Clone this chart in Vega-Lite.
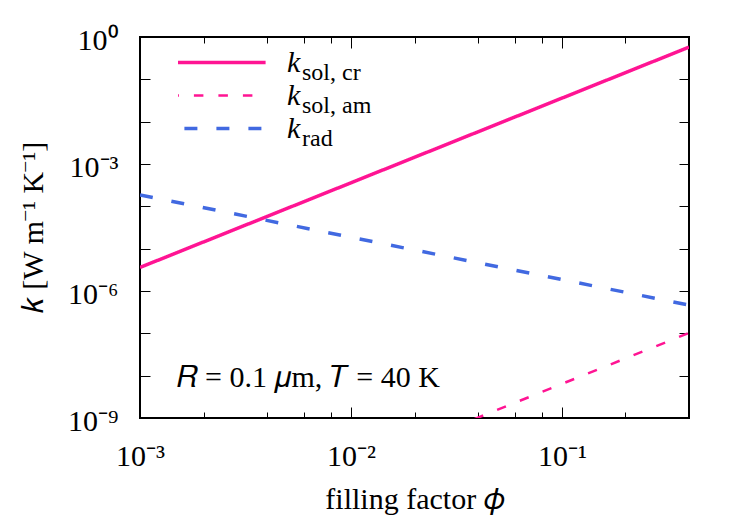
{
  "$schema": "https://vega.github.io/schema/vega-lite/v6.json",
  "width": 549,
  "height": 381,
  "autosize": "none",
  "padding": {"left": 140, "top": 37, "right": 58, "bottom": 105},
  "background": "white",
  "config": {
    "view": {"stroke": "black", "strokeWidth": 2},
    "font": "Liberation Serif",
    "axis": {"domain": false, "grid": false, "tickColor": "black", "tickWidth": 1, "labelColor": "black", "titleColor": "black", "labelFont": "Liberation Serif", "titleFont": "Liberation Serif", "titleFontWeight": "normal", "labelFlush": false, "labelOverlap": false}
  },
  "data": {
    "values": [
      {"name": "k_sol,cr", "sub": "sol, cr", "phi": 0.001, "k": 3.6e-6},
      {"name": "k_sol,cr", "sub": "sol, cr", "phi": 0.01, "k": 3.6e-4},
      {"name": "k_sol,cr", "sub": "sol, cr", "phi": 0.1, "k": 0.036},
      {"name": "k_sol,cr", "sub": "sol, cr", "phi": 0.4, "k": 0.576},
      {"name": "k_sol,am", "sub": "sol, am", "phi": 0.03, "k": 5.75e-10},
      {"name": "k_sol,am", "sub": "sol, am", "phi": 0.1, "k": 6.4e-9},
      {"name": "k_sol,am", "sub": "sol, am", "phi": 0.4, "k": 1.02e-7},
      {"name": "k_rad", "sub": "rad", "phi": 0.001, "k": 1.86e-4},
      {"name": "k_rad", "sub": "rad", "phi": 0.01, "k": 1.86e-5},
      {"name": "k_rad", "sub": "rad", "phi": 0.1, "k": 1.86e-6},
      {"name": "k_rad", "sub": "rad", "phi": 0.4, "k": 4.65e-7}
    ]
  },
  "layer": [
    {
      "mark": {"type": "line", "clip": true},
      "encoding": {
        "x": {
          "field": "phi", "type": "quantitative",
          "scale": {"type": "log", "domain": [0.001, 0.4], "nice": false},
          "axis": {
            "orient": "bottom",
            "values": [0.001, 0.002, 0.004, 0.006, 0.008, 0.01, 0.02, 0.04, 0.06, 0.08, 0.1, 0.2],
            "labelExpr": "datum.value == 0.001 ? '10⁻³' : datum.value == 0.01 ? '10⁻²' : datum.value == 0.1 ? '10⁻¹' : ''",
            "tickSize": {"condition": {"test": "datum.value == 0.001 || datum.value == 0.01 || datum.value == 0.1", "value": -11}, "value": -6},
            "labelFontSize": 30,
            "labelBaseline": "alphabetic",
            "labelPadding": 58,
            "title": "filling factor 𝜙",
            "titleFontSize": 30,
            "titleBaseline": "alphabetic",
            "titleY": 90
          }
        },
        "y": {
          "field": "k", "type": "quantitative",
          "scale": {"type": "log", "domain": [1e-9, 1], "nice": false},
          "axis": {
            "orient": "left",
            "values": [1e-9, 1e-8, 1e-7, 1e-6, 1e-5, 1e-4, 1e-3, 1e-2, 1e-1, 1],
            "labelExpr": "datum.value == 1 ? '10⁰' : datum.value == 1e-3 ? '10⁻³' : datum.value == 1e-6 ? '10⁻⁶' : datum.value == 1e-9 ? '10⁻⁹' : ''",
            "tickSize": -10,
            "labelFontSize": 30,
            "labelBaseline": "middle",
            "labelPadding": 32,
            "labelOffset": 3,
            "title": "𝑘 [W m⁻¹ K⁻¹]",
            "titleFontSize": 30,
            "titleBaseline": "alphabetic",
            "titleAlign": "center",
            "titleAngle": -90,
            "titleX": -98,
            "titleY": 190
          }
        },
        "color": {
          "field": "name", "type": "nominal",
          "scale": {"domain": ["k_sol,cr", "k_sol,am", "k_rad"], "range": ["#ff1493", "#ff1493", "#4169e1"]},
          "legend": {
            "orient": "none", "legendX": 38, "legendY": 9,
            "title": null, "padding": 0, "rowPadding": 0, "clipHeight": 33,
            "symbolType": "M-6.6,0H6.6", "symbolSize": 484, "symbolStrokeWidth": 3.5,
            "labelExpr": "'k'", "labelFont": "Liberation Serif", "labelFontSize": 30, "labelFontStyle": "italic",
            "labelBaseline": "middle", "labelOffset": 79, "labelColor": "black",
            "encode": {"symbols": {"update": {"strokeWidth": {"signal": "datum.value === 'k_sol,am' ? 2.5 : 3.5"}}}}
          }
        },
        "strokeDash": {
          "field": "name", "type": "nominal",
          "scale": {"domain": ["k_sol,cr", "k_sol,am", "k_rad"], "range": [[1, 0], [9.5, 15], [13, 19]]}
        },
        "opacity": {
          "field": "sub", "type": "ordinal",
          "sort": ["sol, cr", "sol, am", "rad"],
          "scale": {"range": [1, 1]},
          "legend": {
            "orient": "none", "legendX": 138, "legendY": 19,
            "title": null, "padding": 0, "rowPadding": 0, "clipHeight": 33,
            "symbolSize": 1, "labelOffset": 0,
            "symbolFillColor": "transparent", "symbolStrokeColor": "transparent", "symbolStrokeWidth": 0,
            "labelFont": "Liberation Serif", "labelFontSize": 24, "labelBaseline": "middle", "labelColor": "black",
            "encode": {
              "symbols": {"update": {"opacity": {"value": 0}, "fill": {"value": "transparent"}, "stroke": {"value": "transparent"}}},
              "labels": {"update": {"fontSize": {"value": 24}}}
            }
          }
        },
        "strokeWidth": {"condition": {"test": "datum.name === 'k_sol,am'", "value": 2.5}, "value": 3.5}
      }
    },
    {
      "mark": {"type": "point", "opacity": 0},
      "encoding": {
        "x": {
          "field": "phi", "type": "quantitative",
          "axis": {
            "orient": "top",
            "values": [0.001, 0.002, 0.004, 0.006, 0.008, 0.01, 0.02, 0.04, 0.06, 0.08, 0.1, 0.2],
            "labels": false,
            "tickSize": {"condition": {"test": "datum.value == 0.001 || datum.value == 0.01 || datum.value == 0.1", "value": -11}, "value": -6},
            "title": null
          }
        },
        "y": {
          "field": "k", "type": "quantitative",
          "axis": {
            "orient": "right",
            "values": [1e-9, 1e-8, 1e-7, 1e-6, 1e-5, 1e-4, 1e-3, 1e-2, 1e-1, 1],
            "labels": false,
            "tickSize": -10,
            "title": null
          }
        }
      }
    },
    {
      "data": {"values": [{"note": "𝑅 = 0.1 𝜇m, 𝑇 = 40 K"}]},
      "mark": {"type": "text", "align": "left", "baseline": "alphabetic", "fontSize": 30, "font": "Liberation Serif", "color": "black"},
      "encoding": {
        "text": {"field": "note", "type": "nominal"},
        "x": {"datum": 0.00149, "type": "quantitative", "axis": null},
        "y": {"datum": 5.5e-9, "type": "quantitative", "axis": null}
      }
    }
  ],
  "resolve": {"axis": {"x": "independent", "y": "independent"}}
}
